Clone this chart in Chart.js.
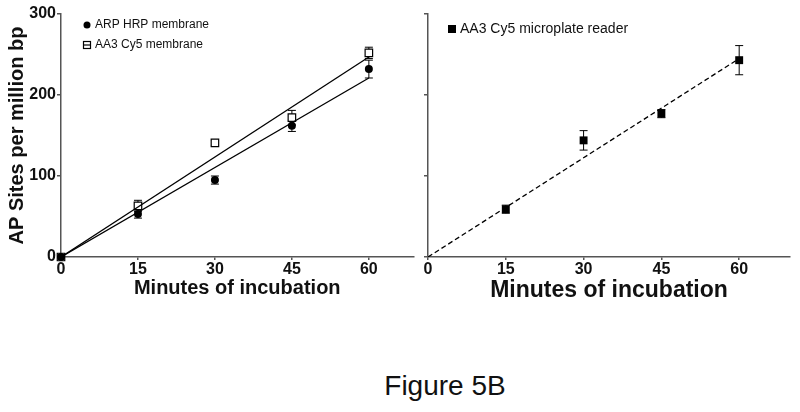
<!DOCTYPE html>
<html>
<head>
<meta charset="utf-8">
<script src="https://cdn.jsdelivr.net/npm/chart.js@4.4.1/dist/chart.umd.min.js"></script>
<style>
	body { margin: 0; background: #fff; width: 800px; height: 412px; position: relative; overflow: hidden; }
	#leftBox { position: absolute; left: 0; top: 0; width: 420px; height: 310px; }
	#rightBox { position: absolute; left: 400px; top: 0; width: 400px; height: 310px; }
	#caption { position: absolute; left: 0; width: 890px; top: 370px; text-align: center;
		font: 28px "Liberation Sans", Arial, sans-serif; color: #111; }
</style>
</head>
<body>
<div id="leftBox"><canvas id="membraneChart"></canvas></div>
<div id="rightBox"><canvas id="plateChart"></canvas></div>
<div id="caption">Figure 5B</div>
<script>
// values
const minutes = [0, 15, 30, 45, 60];
const arpHrp = [0, 53, 95, 162, 232];
const arpHrpErr = [0, 5, 5, 7, 11];
const aa3Membrane = [0, 63, 141, 172, 252];
const aa3MembraneErr = [0, 7, 3, 9, 7];

const plateMinutes = [15, 30, 45, 60];
const aa3Plate = [59, 144, 177, 243];
const aa3PlateErr = [5, 12, 5, 18];

// linear fits, through the origin
const fitMinutes = [0, 60];
const arpHrpFit = [0, 221];
const aa3MembraneFit = [0, 247];
const aa3PlateFit = [0, 245];

const xTicks = [0, 15, 30, 45, 60];
const yTicks = [0, 100, 200, 300];

const FONT = '"Liberation Sans", Arial, sans-serif';
const AXIS = '#555';

function pts(xs, ys) {
	return xs.map((x, i) => ({ x: x, y: ys[i] }));
}

// vertical error bars with caps, drawn under the markers
const errorBars = {
	id: 'errorBars',
	beforeDatasetsDraw(chart) {
		const ctx = chart.ctx;
		const xs = chart.scales.x, ys = chart.scales.y;
		ctx.save();
		ctx.strokeStyle = '#000';
		ctx.lineWidth = 1;
		chart.data.datasets.forEach(ds => {
			if (!ds.errors) return;
			ds.data.forEach((p, i) => {
				const e = ds.errors[i];
				if (!e) return;
				const px = xs.getPixelForValue(p.x);
				const top = ys.getPixelForValue(p.y + e);
				const bot = ys.getPixelForValue(p.y - e);
				ctx.beginPath();
				ctx.moveTo(px, top); ctx.lineTo(px, bot);
				ctx.moveTo(px - 4, top); ctx.lineTo(px + 4, top);
				ctx.moveTo(px - 4, bot); ctx.lineTo(px + 4, bot);
				ctx.stroke();
			});
		});
		ctx.restore();
	}
};

// small legend in the top left corner of the plot
const cornerLegend = {
	id: 'cornerLegend',
	afterDraw(chart, args, opts) {
		const ctx = chart.ctx;
		ctx.save();
		ctx.font = opts.size + 'px ' + FONT;
		ctx.textBaseline = 'middle';
		opts.items.forEach(it => {
			ctx.fillStyle = '#000';
			ctx.strokeStyle = '#000';
			ctx.lineWidth = 1.2;
			if (it.shape === 'circle') {
				ctx.beginPath();
				ctx.arc(it.x, it.y, 3.5, 0, Math.PI * 2);
				ctx.fill();
			} else if (it.shape === 'openSquare') {
				ctx.fillStyle = '#fff';
				ctx.fillRect(it.x - 3.5, it.y - 3.5, 7, 7);
				ctx.strokeRect(it.x - 3.5, it.y - 3.5, 7, 7);
				ctx.beginPath();
				ctx.moveTo(it.x - 3.5, it.y); ctx.lineTo(it.x + 3.5, it.y);
				ctx.stroke();
			} else {
				ctx.fillRect(it.x - 4, it.y - 4, 8, 8);
			}
			ctx.fillStyle = '#111';
			ctx.fillText(it.text, it.x + 8, it.y);
		});
		ctx.restore();
	}
};

function axes(xMax, yWidth, showYLabels, xTitleSize, xTitlePad) {
	return {
		x: {
			type: 'linear', min: 0, max: xMax,
			afterBuildTicks: s => { s.ticks = xTicks.map(v => ({ value: v })); },
			afterFit: s => { s.height = 53; },
			grid: { drawOnChartArea: false, tickLength: 3, color: AXIS, lineWidth: 1.5 },
			border: { color: AXIS, width: 1.5 },
			ticks: { padding: 0, color: '#111', font: { family: FONT, size: 16, weight: 'bold' } },
			title: { display: true, text: 'Minutes of incubation', color: '#111',
				padding: { top: 0, bottom: xTitlePad },
				font: { family: FONT, size: xTitleSize, weight: 'bold' } }
		},
		y: {
			type: 'linear', min: 0, max: 300,
			afterBuildTicks: s => { s.ticks = yTicks.map(v => ({ value: v })); },
			afterFit: s => { s.width = yWidth; },
			grid: { drawOnChartArea: false, tickLength: 4, color: AXIS, lineWidth: 1.5 },
			border: { color: AXIS, width: 1.5 },
			ticks: { display: showYLabels, padding: 1, color: '#111',
				font: { family: FONT, size: 16, weight: 'bold' } },
			title: { display: showYLabels, text: 'AP Sites per million bp', color: '#111',
				padding: { top: 5, bottom: 0 },
				font: { family: FONT, size: 20, weight: 'bold' } }
		}
	};
}

const common = {
	responsive: true,
	maintainAspectRatio: false,
	animation: false,
	plugins: { legend: { display: false }, tooltip: { enabled: false } }
};

new Chart(document.getElementById('membraneChart'), {
	type: 'scatter',
	data: {
		datasets: [
			{ type: 'line', data: pts(fitMinutes, arpHrpFit), borderColor: '#000', borderWidth: 1.3,
				pointRadius: 0, fill: false },
			{ type: 'line', data: pts(fitMinutes, aa3MembraneFit), borderColor: '#000', borderWidth: 1.3,
				pointRadius: 0, fill: false },
			{ data: pts(minutes, arpHrp), errors: arpHrpErr, pointStyle: 'circle', pointRadius: 4,
				backgroundColor: '#000', borderColor: '#000', borderWidth: 0, clip: false },
			{ data: pts(minutes, aa3Membrane), errors: aa3MembraneErr, pointStyle: 'rect', pointRadius: 5.3,
				backgroundColor: '#fff', borderColor: '#000', borderWidth: 1.2, clip: false }
		]
	},
	options: Object.assign({}, common, {
		layout: { padding: { left: 0, top: 14, right: 3, bottom: 0 } },
		scales: axes(68.7, 61, true, 20, 10),
		plugins: Object.assign({}, common.plugins, {
			cornerLegend: { size: 12, items: [
				{ shape: 'circle', x: 87, y: 25, text: 'ARP HRP membrane' },
				{ shape: 'openSquare', x: 87, y: 45, text: 'AA3 Cy5 membrane' }
			] }
		})
	}),
	plugins: [errorBars, cornerLegend]
});

new Chart(document.getElementById('plateChart'), {
	type: 'scatter',
	data: {
		datasets: [
			{ type: 'line', data: pts(fitMinutes, aa3PlateFit), borderColor: '#000', borderWidth: 1.3,
				borderDash: [5, 3], pointRadius: 0, fill: false },
			{ data: pts(plateMinutes, aa3Plate), errors: aa3PlateErr, pointStyle: 'rect', pointRadius: 5.6,
				backgroundColor: '#000', borderColor: '#000', borderWidth: 0, clip: false }
		]
	},
	options: Object.assign({}, common, {
		layout: { padding: { left: 0, top: 14, right: 10, bottom: 0 } },
		scales: axes(69.8, 28, false, 23, 6),
		plugins: Object.assign({}, common.plugins, {
			cornerLegend: { size: 14, items: [
				{ shape: 'square', x: 52, y: 29, text: 'AA3 Cy5 microplate reader' }
			] }
		})
	}),
	plugins: [errorBars, cornerLegend]
});
</script>
</body>
</html>
